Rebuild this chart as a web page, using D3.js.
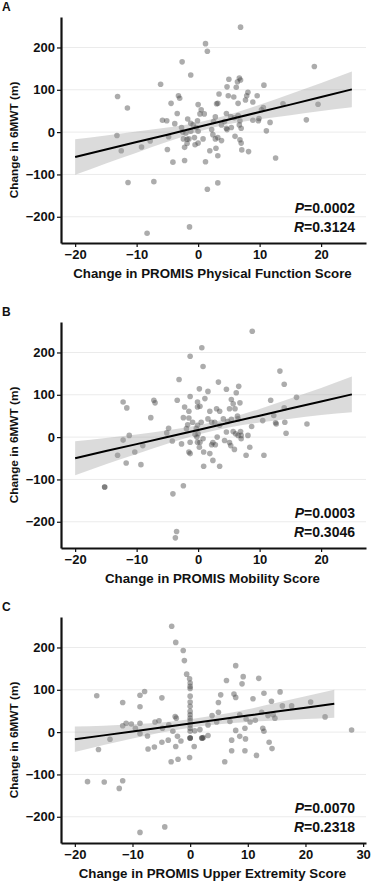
<!DOCTYPE html>
<html>
  <head>
    <meta charset="utf-8"/>
    <title>6MWT vs PROMIS</title>
    <style>
      body { margin: 0; background: #fff; }
      text { font-family: "Liberation Sans", Arial, sans-serif; font-weight: bold; fill: #111; }
      .grid line { stroke: #ebebeb; stroke-width: 1px; }
      .axis path, .axis line { stroke: #111; }
    </style>
    <script src="https://d3js.org/d3.v7.min.js"></script>
  </head>
  <body>
    <svg id="chart" width="372" height="886"></svg>
    <script>
      // points: [PROMIS change, 6MWT change]
      var ptsA = [
        [-13.1,84],[-11.5,57],[-13.2,-8],[-12.5,-44],[-9.2,-35],[-7.8,-21],[-11.4,-119],[-7.2,-117],
        [-8.3,-239],[-1.4,-224],[-6.1,113],[-2.6,166],[-1.2,135],[-5.8,28],[-5.1,27],[-4.4,68],
        [-3.2,86],[-3.0,80],[-3.4,44],[-3.8,20],[-4.8,-11],[-5.0,-41],[-4.1,-71],[-2.2,-67],
        [-2.7,11],[-2.5,0],[-2.4,-16],[-1.8,-17],[-1.5,-16],[-0.6,-13],[-2.2,-36],[-1.8,-27],
        [-1.7,31],[-1.2,21],[-0.8,17],[-2.0,-2],[-1.2,2],
        [6.9,248],[1.2,209],[1.5,191],[18.9,155],[19.5,66],[17.6,29],[10.7,111],[5.0,125],
        [6.7,128],[6.9,123],[6.4,119],[4.7,107],[6.2,106],[3.4,90],[4.9,86],[5.8,83],[8.1,94],
        [7.9,86],[7.7,76],[9.6,86],[8.9,71],[6.5,68],[3.0,67],[3.2,68],[10.6,58],[10.3,53],
        [13.8,67],[2.8,36],[2.5,25],[5.3,37],[5.9,34],[6.5,39],[6.8,27],[6.7,17],[7.0,9],
        [4.3,25],[4.6,9],[8.9,28],[9.9,32],[9.8,27],[11.7,23],[11.1,3],[12.6,-61],[-0.1,27],
        [0.3,43],[0.5,53],[0,65],[1.0,43],[-0.3,11],[0,2],[2.2,6],[2.4,-6],[3.2,-13],[3.8,-20],
        [2.8,-16],[4.7,6],[5.4,11],[6.0,-10],[6.8,-18],[7.0,-26],[7.1,-42],[8.2,-46],[1.9,-44],
        [2.9,-38],[3.2,-56],[1.2,-70],[3.2,-120],[1.5,-135],[-0.5,-30],[0,-26],[0.8,-16],
        [3.8,17],[4.6,44]
      ];
      var ptsB = [
        [-15.2,-118],[-15.2,-118],[-12.2,83],[-11.6,69],[-7.2,87],[-7.0,81],[-7.7,46],[-12.2,-7],[-11.2,4],
        [-13.1,-43],[-10.3,-35],[-11.7,-61],[-9.3,-65],[-9.0,-20],[-4.1,-134],[-2.4,-115],
        [-3.5,-223],[-3.7,-238],[-1.3,191],[-3.1,136],[0.8,167],[0.2,114],[-1.3,96],[-3.4,87],
        [-2.2,71],[-1.5,61],[-2.4,46],[-1.5,45],[-0.1,83],[-0.1,71],[-1.7,29],[-1.9,20],
        [-4.8,21],[-5.1,10],[-4.2,-9],[-2.7,-16],[-1.3,-12],[-1.5,-35],[-1.3,-39],[-0.5,6],
        [-0.2,0],[-0.1,-12],[0.2,-24],[0.9,-69],[0.9,-35],[-0.9,35],[-0.1,28],
        [8.8,250],[0.6,211],[13.3,156],[14.0,125],[16.0,94],[11.8,87],[1.6,108],[1.1,91],
        [3.3,130],[4.6,113],[6.2,105],[6.6,120],[0.3,73],[1.9,61],[3.0,67],[3.5,61],[5.4,89],
        [5.7,79],[6.8,81],[6.0,67],[5.1,67],[6.4,50],[6.5,43],[14.0,69],[14.1,35],[12.3,51],
        [12.6,34],[12.7,31],[10.5,39],[8.7,25],[17.7,31],[14.3,9],[8.4,-24],[7.8,-43],[10.7,-43],
        [3.5,-69],[2.4,-55],[1.9,-39],[8.1,4],[7.0,4],[6.9,13],[4.1,43],[4.8,37],[5.4,42],
        [3.5,28],[2.7,35],[1.6,43],[2.2,35],[0.5,35],[-0.3,20],[0,8],[4.6,12],[5.7,13],[6.1,8],
        [6.5,4],[7.0,-4],[3.1,0],[2.4,-13],[2.2,-18],[2.8,-18],[0.8,-4],[0.3,-12],[5.1,-13],
        [5.3,-20],[5.9,-29],[4.3,-8]
      ];
      var ptsC = [
        [-3.2,250],[-2.5,212],[-1.2,193],[-1.0,169],[-0.6,137],[-0.1,126],
        [0,116],[0,108],[0,103],[0,85],[0,71],[0,61],[0,49],[0,41],[0,33],[0,27],[0,17],[0,9],
        [0,2],[0,-14],[0,-14],[0,-14],[2.1,-14],[2.1,-14],
        [-16.2,86],[-11.7,70],[-8.7,87],[-7.9,96],[-8.7,60],[-4.9,81],[-11.7,15],[-11.1,21],
        [-10.2,19],[-9.5,9],[-8.7,21],[-8.7,-4],[-13.9,-17],[-15.9,-41],[-7.4,-9],[-7.3,-40],
        [-6.2,-35],[-4.9,-24],[-3.8,-19],[-6.1,24],[-5.4,27],[-4.8,9],[-3.7,17],[-2.6,37],
        [-2.4,33],[-3.0,2],[-2.2,-10],[-1.6,-21],[-2.5,-34],[-3.3,-70],[-2.1,-64],[-0.1,-60],
        [-17.8,-117],[-14.9,-118],[-11.7,-115],[-12.3,-133],[-8.7,-237],[-4.4,-224],
        [7.9,157],[6.3,122],[9.2,131],[11.9,127],[9.0,114],[5.3,88],[7.6,90],[7.9,82],[10.9,79],
        [12.8,92],[15.6,95],[4.9,70],[14.1,73],[16.0,62],[17.6,62],[20.9,71],[23.4,36],[28.0,5],
        [3.8,39],[4.9,47],[8.6,41],[9.7,31],[10.4,24],[11.3,28],[12.4,47],[13.5,39],[14.4,41],
        [14.7,33],[6.9,25],[9.5,9],[7.9,4],[8.6,-10],[9.6,-16],[12.6,9],[12.8,2],[7.2,-19],
        [7.2,-44],[9.5,-44],[11.5,-55],[6.0,-70],[13.7,-24],[14.2,-39],[0.8,3],[1.7,6],
        [2.3,-13],[3.1,-8],[2.0,-14],[0.7,-34],[4.6,24],[3.1,17]
      ];

      // fitted line with 95% band, read at these x values
      var bandX = [-20, -15, -10, -5, 0, 5, 10, 15, 20, 25];
      var fitA = [-59, -41, -23.5, -6, 12, 30, 47.5, 65, 83, 101];
      var loA  = [-101, -74, -48.5, -23, 1, 19, 30.5, 40, 50, 59];
      var hiA  = [-17, -8, 1.5, 11, 23, 41, 64.5, 90, 116, 143];
      var fitB = [-50, -33, -16.6, 0.2, 17, 33.8, 50.6, 67.4, 84.2, 101];
      var loB  = [-90, -64, -39.6, -15.8, 6, 22.8, 34.6, 43.4, 52.2, 59];
      var hiB  = [-10, -2, 6.4, 16.2, 28, 44.8, 66.6, 91.4, 116.2, 143];
      var fitC = [-17, -7.7, 1.7, 11, 20.4, 29.8, 39.1, 48.5, 57.8, 67.2];
      var loC  = [-47, -30.7, -15.3, -1, 10.4, 18.8, 24.1, 27.5, 30.8, 34.2];
      var hiC  = [13, 15.3, 18.7, 23, 30.4, 40.8, 54.1, 69.5, 84.8, 100.2];

      var yTicks = [-200, -100, 0, 100, 200];
      var xTicksAB = [-20, -10, 0, 10, 20];
      var xTicksC = [-20, -10, 0, 10, 20, 30];

      var panels = [
        {label: "A", top: 17, pts: ptsA, fit: fitA, lo: loA, hi: hiA, xDom: [-22.3, 27.3], xTicks: xTicksAB,
         xTitle: "Change in PROMIS Physical Function Score", p: "0.0002", r: "0.3124"},
        {label: "B", top: 322, pts: ptsB, fit: fitB, lo: loB, hi: hiB, xDom: [-22.3, 27.3], xTicks: xTicksAB,
         xTitle: "Change in PROMIS Mobility Score", p: "0.0003", r: "0.3046"},
        {label: "C", top: 617, pts: ptsC, fit: fitC, lo: loC, hi: hiC, xDom: [-22.4, 30.5], xTicks: xTicksC,
         xTitle: "Change in PROMIS Upper Extremity Score", p: "0.0070", r: "0.2318"}
      ];

      var svg = d3.select("#chart");
      var left = 61, right = 366, plotH = 226;

      panels.forEach(function(pn) {
        var bottom = pn.top + plotH;
        var x = d3.scaleLinear().domain(pn.xDom).range([left, right]);
        var y = d3.scaleLinear().domain([-262, 272]).range([bottom, pn.top]);
        var g = svg.append("g");

        // panel letter
        g.append("text").attr("x", 2).attr("y", pn.top - 6).attr("font-size", 12).text(pn.label);

        // horizontal grid
        g.append("g").attr("class", "grid").selectAll("line")
          .data(yTicks).enter().append("line")
          .attr("x1", left).attr("x2", right)
          .attr("y1", function(d) { return y(d); })
          .attr("y2", function(d) { return y(d); });

        // points
        g.append("g").selectAll("circle")
          .data(pn.pts).enter().append("circle")
          .attr("cx", function(d) { return x(d[0]); })
          .attr("cy", function(d) { return y(d[1]); })
          .attr("r", 2.8)
          .attr("fill", "#474747")
          .attr("fill-opacity", 0.45);

        // confidence band + fit line
        var band = bandX.map(function(v, i) { return {x: v, lo: pn.lo[i], hi: pn.hi[i], f: pn.fit[i]}; });
        g.append("path").datum(band)
          .attr("fill", "#999").attr("fill-opacity", 0.35)
          .attr("d", d3.area().curve(d3.curveMonotoneX)
            .x(function(d) { return x(d.x); })
            .y0(function(d) { return y(d.lo); })
            .y1(function(d) { return y(d.hi); }));
        g.append("path").datum(band)
          .attr("fill", "none").attr("stroke", "#000").attr("stroke-width", 2)
          .attr("d", d3.line()
            .x(function(d) { return x(d.x); })
            .y(function(d) { return y(d.f); }));

        // axes
        var ya = g.append("g").attr("class", "axis")
          .attr("transform", "translate(" + left + ",0)")
          .call(d3.axisLeft(y).tickValues(yTicks).tickSize(4).tickPadding(2).tickSizeOuter(0));
        var xa = g.append("g").attr("class", "axis")
          .attr("transform", "translate(0," + bottom + ")")
          .call(d3.axisBottom(x).tickValues(pn.xTicks).tickSize(4).tickPadding(3).tickSizeOuter(0));
        [ya, xa].forEach(function(a) {
          a.select(".domain").attr("stroke-width", 2.2);
          a.selectAll(".tick line").attr("stroke-width", 1.2);
          a.selectAll("text").attr("font-size", 13).attr("font-family", "'Liberation Sans', Arial, sans-serif")
            .attr("font-weight", "bold").attr("fill", "#111");
        });

        // axis titles
        g.append("text")
          .attr("transform", "translate(18," + (pn.top + plotH / 2 + 10) + ") rotate(-90)")
          .attr("text-anchor", "middle").attr("font-size", 11.8)
          .text("Change in 6MWT (m)");
        g.append("text")
          .attr("x", (left + right) / 2 - 1).attr("y", bottom + 35)
          .attr("text-anchor", "middle").attr("font-size", 13.3)
          .text(pn.xTitle);

        // stats
        var st = g.append("text").attr("text-anchor", "end").attr("font-size", 14);
        var t1 = st.append("tspan").attr("x", 355).attr("y", bottom - 30);
        t1.append("tspan").attr("font-style", "italic").text("P");
        t1.append("tspan").text("=" + pn.p);
        var st2 = g.append("text").attr("text-anchor", "end").attr("font-size", 14);
        var t2 = st2.append("tspan").attr("x", 355).attr("y", bottom - 11);
        t2.append("tspan").attr("font-style", "italic").text("R");
        t2.append("tspan").text("=" + pn.r);
      });
    </script>
  </body>
</html>
